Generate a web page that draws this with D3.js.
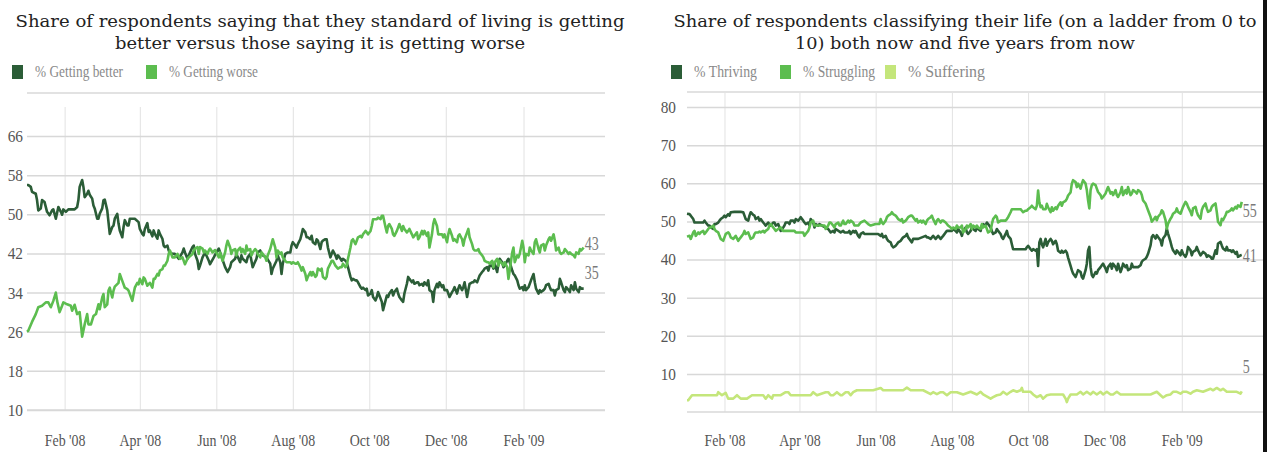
<!DOCTYPE html>
<html>
<head>
<meta charset="utf-8">
<script src="https://cdn.jsdelivr.net/npm/d3@7"></script>
<style>
  body { margin: 0; background: #fff; }
  svg { display: block; }
</style>
</head>
<body>
<svg id="chart" width="1267" height="452"></svg>
<script>
// ── Data: [days since 2 Jan 2008, percent] ─────────────
const better = [[0,56],[1,56],[3,55.6],[4,54.6],[7,54.2],[8,52.9],[9,50.8],[11,51.2],[12,52.9],[14,52.5],[16,50.5],[18,49.8],[20,50.8],[21,51],[23,49.1],[25,51.5],[27,50.5],[28,49.9],[29,51],[31,50.5],[33,51],[36,51],[38,51],[40,51.5],[41,52.9],[42,55.6],[44,57],[45,55.6],[46,53.5],[48,54.2],[49,54.8],[50,54],[52,53.2],[53,51.8],[54,51.2],[56,49.1],[57,49.1],[58,50.1],[60,51.2],[61,52.9],[62,53],[64,50.8],[65,48.4],[66,46],[68,47.4],[69,47.7],[70,49.1],[72,50.1],[73,48.1],[74,46.7],[76,45.3],[77,47.4],[78,48.8],[80,47.7],[81,47.7],[82,49.1],[86,49.1],[89,48.4],[90,47],[92,46],[93,45.7],[94,47],[96,48.2],[97,46.4],[98,46.7],[100,45.5],[101,46.7],[102,46],[104,45],[105,46.7],[106,46],[108,45],[109,43.6],[110,43.3],[112,43.6],[113,42.6],[114,42.2],[116,41.9],[118,41.9],[121,40.9],[124,42.2],[125,43],[126,42.2],[128,40.9],[130,42.2],[132,43.3],[133,43.6],[134,41.9],[136,40.5],[137,38.8],[138,39.5],[140,41.2],[142,42.2],[145,40.5],[146,39.8],[149,41.2],[151,42.2],[153,43],[154,42.2],
  [158,39.2],[160,38.2],[162,39.2],[163,40.2],[166,40.9],[167,41.9],[170,40.2],[171,41.6],[172,40.9],[175,40.2],[176,41.2],[178,41.9],[179,40.5],[180,39.2],[183,40.9],[184,42.2],[186,42.6],[188,41.6],[191,41.2],[194,39.9],[195,37.8],[196,38.9],[199,40.5],[200,41.6],[202,40.2],[203,37.8],[204,39.9],[206,41.9],[208,42.2],[210,42.2],[211,43.6],[212,44.3],[214,43.6],[215,43.2],[216,43.9],[218,44.9],[219,45.9],[220,47],[222,46.3],[223,45.3],[224,45.3],[226,44.9],[227,45.6],[228,44.3],[230,43.9],[231,44.9],[232,44.6],[234,42.9],[235,44.3],[236,44.6],[238,44.9],[239,44.9],[240,43.2],[242,41.2],[243,41.9],[244,42.6],[246,41.6],[247,40.9],[248,41.6],[250,40.9],[251,40.5],[252,40.9],[254,40.5],[255,40.2],[256,39.2],[258,37.2],[259,36.5],[260,36.8],[262,36.5],[263,36.5],[264,36.1],[266,35.1],[267,34.8],[268,35],[270,34.5],[271,34.8],[272,33.4],[274,33.8],[275,34.5],[276,33.1],[278,32.4],[279,33.1],[280,34.1],[282,32.8],[283,32.1],[284,30.4],[286,32.4],[287,33.4],[288,33.1],[289,33.8],[291,34.5],[292,33.4],[293,34.1],[295,34.8],[296,33.8],[297,33.1],[299,32.4],[300,32.1],[301,33.8],[303,35.8],[304,37.2],
  [305,36.8],[307,36.1],[308,36.5],[309,35.8],[311,36.1],[312,36.1],[313,35.5],[315,35.8],[316,35.4],[317,36.1],[319,35.5],[320,36.5],[321,34.5],[323,34.1],[324,32.1],[325,34.5],[327,35.8],[328,35.1],[329,36.1],[331,35.1],[332,35.5],[333,34.5],[335,34.5],[336,33.8],[337,33.1],[339,34.1],[340,34.5],[341,35.1],[343,33.8],[344,34.8],[345,35.5],[347,34.5],[348,35.1],[349,36.1],[351,33.1],[352,34.5],[353,35.8],[355,36.1],[356,36.1],[357,36.5],[359,36.1],[360,36.8],[361,37.5],[363,38.2],[364,38.5],[365,38.9],[367,39.2],[368,38.5],[369,39.5],[371,39.5],[372,38.9],[373,39.9],[375,38.2],[376,39.9],[377,40.9],[379,40.2],[380,39.2],[381,39.5],[383,40.5],[384,40.9],[385,40.2],[387,38.5],[388,37.8],[389,37.5],[391,36.5],[392,35.5],[393,34.8],[395,35.1],[396,34.5],[397,35.5],[398,34.5],[400,35.1],[401,35.8],[402,36.5],[404,37.8],[405,36.1],[406,34.8],[408,33.8],[409,34.5],[410,34.1],[412,34.5],[413,34.8],[414,35.5],[416,35.8],[417,35.1],[418,34.5],[420,34.5],[421,33.4],[422,34.5],[424,34.8],[425,36.8],[426,36.1],[428,34.5],[429,34.1],[430,35.1],[432,34.5],[433,34.1],[434,35.5],[436,34.5],[437,36.1],[438,34.8],[440,34.1],[441,35.1],[442,34.8],[444,34.8]];

const worse = [[0,26],[1,26.2],[4,28],[7,29.6],[9,31],[12,31.3],[15,32],[17,32],[19,31],[21,32.3],[23,34],[24,32.3],[26,30],[28,31.3],[29,32],[32,31.6],[35,31.3],[36,30.3],[38,31.5],[40,29.6],[42,30],[43,27.5],[44,25],[46,27.5],[48,29.6],[49,27.5],[51,27.5],[53,29.2],[55,29.6],[57,31.6],[58,30.6],[60,33],[61,33.7],[62,31],[64,31.6],[65,34.4],[66,35],[68,33],[69,34.4],[70,35.2],[73,36],[74,37.8],[76,36.4],[78,35],[80,34.7],[81,34.4],[82,33.7],[84,32.3],[85,33.7],[86,35],[88,36],[89,35.7],[90,36.8],[92,35.7],[93,37.1],[94,36.8],[96,35.4],[97,35.7],[98,36],[100,35],[101,36.8],[102,36.8],[104,37.8],[105,37.5],[106,38.5],[108,38.8],[109,39.5],[110,39.5],[112,40.5],[113,41.9],[114,42.6],[116,41.2],[118,41.2],[120,41.9],[122,40.9],[124,41.2],[126,39.8],[128,40.9],[129,41.2],[132,41.9],[133,42.6],[134,43],[136,43.3],[137,41.9],[138,43.3],[140,43],[141,42.2],[142,42.6],[144,41.9],[145,42.6],[146,43],[148,42.2],[150,42.7],[153,41.2],[154,42.2],
  [156,40.5],[158,42.2],[159,43.6],[160,44.6],[162,43.2],[163,41.9],[164,42.6],[166,42.9],[167,41.6],[168,42.6],[170,43.2],[171,42.2],[172,42.9],[174,41.9],[175,43.6],[176,42.6],[178,42.9],[179,41.6],[180,42.2],[182,42.9],[183,42.6],[184,41.9],[186,41.2],[187,42.2],[188,41.9],[190,41.2],[191,40.5],[192,41.6],[194,42.9],[195,43.9],[196,44.9],[198,43.2],[199,41.2],[200,42.6],[202,41.9],[203,42.2],[204,41.2],[206,40.5],[207,40.2],[210,40.2],[211,39.9],[212,40.2],[214,39.9],[215,39.9],[216,40.2],[218,39.2],[219,38.5],[220,39.2],[222,37.8],[223,36.5],[224,37.2],[226,38.2],[227,37.5],[228,38.2],[230,37.2],[231,37.5],[232,38.9],[234,38.5],[235,38.9],[236,37.2],[238,36.8],[239,37.2],[240,38.9],[242,39.9],[243,40.5],[244,40.5],[246,39.5],[247,39.2],[248,38.9],[250,39.2],[251,39.2],[252,39.9],[254,39.2],[255,39.5],[256,40.9],[258,43.2],[259,44.6],[260,44.9],[262,43.9],[263,44.6],[264,45.3],[266,45.6],[267,45.3],[268,45.9],[270,46.6],[271,46.3],[272,45.9],[274,46.6],[275,47.6],[276,49],[278,49],[279,49],[280,49.3],[282,49],[283,49.7],[284,49.7],[286,47.3],[287,46.3],[288,47.6],[289,48],[291,47],[292,45.9],[293,45.6],[295,46.6],[296,47.3],[297,48],[299,46.6],[300,47.6],[301,47],[303,46.3],[304,46.6],
  [305,47],[307,45.9],[308,45.3],[309,45.6],[311,46.3],[312,44.9],[313,45.3],[315,46.6],[316,45.9],[317,46.6],[319,45.6],[320,46.3],[321,43.2],[323,45.9],[324,48],[325,49],[327,47.6],[328,45.9],[329,45.9],[331,45.9],[332,45.3],[333,45.9],[335,44.3],[336,45.9],[337,47],[339,45.6],[340,44.6],[341,44.9],[343,44.3],[344,45.6],[345,45.9],[347,44.9],[348,43.6],[349,44.9],[351,46.3],[352,47],[353,45.3],[355,43.9],[356,42.9],[357,42.6],[359,42.6],[360,42.9],[361,42.2],[363,41.6],[364,41.2],[365,40.5],[367,40.2],[368,40.2],[369,39.9],[371,40.5],[372,39.2],[373,40.2],[375,40.9],[376,39.5],[377,40.5],[379,39.9],[380,39.5],[381,40.2],[383,39.2],[384,36.8],[385,38.5],[387,42.2],[388,43.2],[389,40.2],[391,41.6],[392,41.2],[393,41.9],[395,44.6],[396,43.2],[397,40.2],[398,41.9],[400,41.6],[401,43.2],[402,42.6],[404,41.9],[405,44.3],[406,44.9],[408,42.9],[409,42.2],[410,43.6],[412,43.9],[413,42.6],[414,43.6],[416,44.9],[417,45.3],[418,44.6],[420,45.9],[421,44.6],[422,42.6],[424,43.2],[425,42.2],[426,41.9],[428,42.2],[429,42.9],[430,42.6],[432,41.9],[433,42.2],[434,41.9],[436,41.6],[437,41.2],[438,42.2],[440,41.9],[441,42.9],[442,42.6],[444,43.2]];

const thriving = [[0,52],[2,51.9],[3,51.5],[5,50.6],[6,49.7],[9,49.7],[11,49.7],[13,49.7],[14,50.2],[15,49.7],[17,48.9],[18,48.9],[19,48.4],[21,48],[22,49.3],[23,49.3],[25,49.7],[26,50.2],[27,50.6],[29,51.1],[30,51.5],[31,51.1],[33,51.9],[34,51.5],[35,52.4],[38,52.5],[41,52.5],[43,52.5],[45,52.4],[46,51.5],[47,50.6],[49,50.2],[50,51.5],[51,52.4],[53,51.7],[54,51.5],[55,50.6],[57,51.1],[58,50.2],[59,50.6],[61,49.7],[62,49.3],[63,48.9],[65,49.7],[66,49.3],[67,48.9],[69,49.7],[70,49.7],[71,48.9],[73,49.3],[74,48.4],[75,47.5],[77,48.4],[78,48.9],[79,49.7],[81,49.7],[82,49.3],[83,50.2],[85,50.2],[86,49.7],[87,50.6],[89,50.2],[90,50.6],[91,51.1],[93,50.2],[94,49.7],[95,49.3],[97,49.7],[98,48.9],[99,50.6],[101,49.7],[102,48.4],[103,49.3],[105,48.9],[106,49.3],[113,48],[115,47.1],[117,47.5],[118,47.1],[119,48],[123,47.1],[125,47.5],[126,47.1],[129,47.1],[130,47.5],[131,46.7],[133,47.5],[134,47.1],[135,47.5],[137,46.2],[138,45.8],[139,46.7],[141,47.1],[142,46.7],[145,46.7],[147,46.7],[150,46.7],[153,46.7],
  [155,46.2],[156,46.7],[157,45.8],[159,46.2],[160,45.4],[161,44.9],[163,44.5],[164,43.6],[165,43.2],[167,43.6],[168,44],[169,44.5],[171,44.9],[172,45.4],[173,45.8],[175,46.2],[176,46.7],[177,45.8],[179,44.9],[180,44.5],[181,45.4],[183,45.4],[185,45.4],[188,45.8],[191,46.2],[192,45.8],[193,45.8],[195,45.4],[196,45.8],[197,46.2],[199,45.4],[200,45.8],[201,46.2],[203,45.4],[204,45.8],[205,46.2],[207,47.1],[208,47.5],[209,47.5],[212,47.5],[213,48],[215,47.5],[216,47.1],[217,48],[219,47.1],[220,46.2],[221,47.5],[223,48.4],[224,47.1],[225,46.7],[227,47.5],[228,48.4],[229,48],[231,47.5],[232,48.4],[233,48],[235,47.5],[236,48.9],[237,49.3],[239,48.9],[240,49.7],[241,49.3],[243,48.4],[244,47.5],[245,46.7],[247,47.1],[248,48],[249,47.5],[251,46.7],[252,45.8],[253,45.4],[255,46.7],[256,47.5],[257,46.2],[259,45.4],[260,44],[261,42.7],[263,42.7],[265,42.7],[268,42.7],[271,42.7],[272,43.2],[273,43.6],[275,42.7],[276,42.3],[277,42.7],[279,42.3],[280,42.7],[281,38.3],[282,44.5],[283,45.4],[284,44],[285,43.2],[287,45.4],[288,43.6],[289,44.5],[291,45.4],[292,44.9],[293,44],[295,44.9],[296,44],[297,42.3],[299,41.8],[300,42.3],[301,41.8],[303,42.3],[304,41.8],[305,40.5],[307,38.3],
  [308,37.2],[309,36.3],[311,35.4],[312,36.3],[313,37.2],[315,36.7],[316,35.4],[317,35],[319,37.2],[320,38.9],[321,42.4],[322,43.3],[323,38],[324,35.9],[325,35.4],[327,36.7],[328,36.3],[329,37.2],[331,38],[332,38.5],[333,38.9],[335,37.6],[336,36.7],[337,38],[339,38.9],[340,37.6],[341,38.9],[343,38],[344,37.2],[345,38.9],[347,36.7],[348,37.6],[349,38.9],[351,38],[352,38.5],[353,37.2],[355,37.6],[356,38.9],[357,38],[359,38],[360,38],[361,38],[363,38.5],[364,39.4],[365,39.8],[367,40.2],[368,40.7],[369,41.5],[371,43.7],[372,45.9],[373,46.4],[375,45.5],[376,46.4],[377,45.9],[379,45],[380,43.7],[381,45.5],[383,46.4],[384,48.1],[385,46.8],[387,44.6],[388,43.3],[389,42.4],[391,41.5],[392,42.4],[393,42],[395,41.1],[396,42.4],[397,41.5],[399,40.7],[400,41.5],[401,43.3],[403,42.4],[404,41.1],[405,42],[407,42.4],[408,43.3],[409,42.4],[411,41.1],[412,41.5],[413,42],[415,41.5],[416,40.7],[417,41.1],[419,40.7],[420,40.2],[421,40.2],[423,42.4],[424,41.5],[425,44.2],[427,44.6],[428,43.7],[429,42.9],[431,42.4],[432,43.3],[433,42.4],[435,42.4],[436,42],[437,42.4],[439,41.5],[440,42],[441,40.7],[443,41.1],[444,41.2]];

const struggling = [[0,46],[2,46.2],[3,45.4],[5,47.1],[6,47.5],[7,46.2],[9,47.1],[10,46.7],[11,47.1],[13,47.5],[14,46.7],[15,47.1],[17,48],[18,48.4],[19,48.4],[21,48.9],[22,48],[23,47.5],[25,47.1],[26,46.2],[27,45.4],[29,44.9],[30,45.8],[31,46.7],[33,47.1],[34,46.7],[35,45.8],[37,45.4],[38,45.8],[39,46.2],[41,44.9],[42,45.4],[43,45.8],[45,46.7],[46,47.5],[47,46.7],[49,47.1],[50,46.2],[51,45.4],[53,45.8],[54,46.7],[55,47.1],[57,47.1],[58,47.3],[59,47.1],[61,47.5],[62,47.1],[63,47.5],[65,48],[66,48.9],[67,49.3],[69,48.4],[70,48],[71,47.5],[73,48],[75,48.4],[77,47.5],[78,47.5],[81,47.5],[83,47.5],[86,47.5],[87,47.1],[89,47.1],[91,47.1],[93,47.1],[94,46.2],[95,46.7],[97,47.5],[98,48.4],[99,49.7],[101,50.2],[102,48.9],[103,48.9],[105,48.9],[107,48.9],[110,48.9],[111,48],[113,48.9],[114,49.7],[115,49.7],[117,48.9],[118,48.4],[119,49.3],[121,49.7],[122,48.9],[123,48.9],[125,50.2],[126,49.3],[127,49.3],[129,50.2],[130,49.7],[131,50.2],[133,49.7],[134,48.9],[137,48.9],[139,49.7],[142,50.2],[145,49.3],[147,48.9],[151,49.3],[154,49.3],
  [155,50.6],[156,49.7],[157,49.3],[159,50.2],[160,51.1],[161,51.5],[163,51.9],[164,52.4],[165,51.9],[167,51.5],[168,51.1],[169,50.6],[171,50.2],[172,50.6],[173,49.7],[175,50.2],[176,50.6],[177,51.1],[179,51.5],[180,51.5],[181,51.1],[183,50.2],[184,50.6],[185,49.7],[187,50.2],[188,49.7],[189,50.2],[191,49.3],[192,50.2],[193,50.6],[195,51.1],[196,51.5],[197,50.6],[199,49.3],[200,50.2],[201,50.6],[203,49.7],[204,50.2],[205,50.2],[207,49.7],[208,49.3],[209,48.9],[211,48.4],[212,48],[213,48.4],[215,48],[216,48.9],[217,48.4],[219,48.4],[220,48.9],[221,47.1],[223,48],[224,48.9],[225,48.4],[227,49.3],[228,48],[229,48.9],[231,48.4],[232,48.9],[233,48.4],[235,48],[236,49.3],[237,48.4],[239,48.9],[240,48],[241,47.1],[243,47.5],[244,49.3],[245,50.6],[247,51.5],[248,51.1],[249,49.7],[251,50.2],[252,50.2],[253,50.2],[255,50.2],[256,50.6],[257,51.1],[259,52.4],[260,53.2],[261,53.2],[263,53.2],[265,53.2],[267,53.2],[268,52.8],[269,52.4],[271,52.8],[272,52.8],[273,53.2],[275,53.7],[276,54.1],[277,53.7],[279,53.2],[280,54.1],[281,58.1],[282,55],[283,53.7],[284,54.1],[285,53.2],[287,53.2],[288,54.6],[289,53.7],[291,52.4],[292,53.7],[293,52.8],[295,53.7],[296,53.2],[297,54.1],[299,55],[300,54.1],[301,55],[303,55.4],[304,55.9],[305,56.8],[307,57.6],
  [308,59.9],[309,60.8],[311,60.3],[312,59],[313,59.9],[315,58.6],[316,59.9],[317,60.8],[319,59.9],[320,58.2],[321,55.5],[322,53.4],[323,58.2],[324,59.5],[325,59.9],[327,59.5],[328,58.6],[329,57.7],[331,56.9],[332,56],[333,56.4],[335,57.3],[336,58.2],[337,59],[339,57.3],[340,57.7],[341,56.9],[343,58.2],[344,56.9],[345,56.4],[347,57.7],[348,59],[349,56.9],[351,58.2],[352,57.3],[353,59],[355,56.9],[356,57.3],[357,58.2],[359,57.7],[360,57.3],[361,58.2],[363,57.7],[364,56.9],[365,55.5],[367,54.7],[368,53.8],[369,52.9],[371,51.2],[372,49.9],[373,50.3],[375,51.2],[376,50.3],[377,51.2],[379,52],[380,52.9],[381,52.5],[383,50.3],[384,48.1],[385,49.4],[387,50.7],[388,51.2],[389,52],[391,52.5],[392,53.4],[393,52.5],[395,52],[396,52.9],[397,53.8],[399,55.1],[400,54.7],[401,53.8],[403,52.5],[404,51.6],[405,53.4],[407,53.8],[408,52.5],[409,51.6],[411,50.7],[412,52.9],[413,53.8],[415,54.7],[416,53.4],[417,52.5],[419,52.9],[420,53.8],[421,54.2],[423,54.7],[424,52.5],[425,49.9],[427,49],[428,50.7],[429,50.3],[431,51.6],[432,52.5],[433,52.5],[435,52.9],[436,53.4],[437,52.9],[439,53.8],[440,53.4],[441,54.2],[443,53.8],[444,55.1]];

const suffering = [[0,3.1],[1,3.1],[4,4.4],[16,4.4],[24,4.4],[25,5.2],[28,4.4],[31,5],[33,3.5],[37,3.5],[40,4.4],[43,3.5],[48,3.5],[52,4.4],[59,4.4],[61,4.4],[63,3.5],[65,4.4],[68,3.5],[69,4.4],[75,4.4],[79,5.2],[81,5.2],[83,4.4],[91,4.4],[99,4.4],[101,5.2],[104,4.4],[111,5.2],[113,5.2],[115,4.4],[117,4.4],[120,5.2],[123,4.4],[124,4.4],[127,5.2],[129,5.2],[131,4.4],[133,5.2],[136,5.7],[149,5.7],[155,6.3],[157,5.7],[173,5.7],[176,6.4],[179,5.7],[189,5.7],[195,4.7],[197,5.2],[200,4.7],[203,5.2],[205,5.2],[208,4.4],[211,5.2],[216,5.2],
  [221,4.6],[227,5.3],[232,4.6],[235,5.3],[237,4.6],[243,3.5],[245,3.9],[248,4.4],[251,4.6],[253,5.3],[256,4.6],[259,5.3],[261,5.7],[264,5.3],[267,5.7],[268,6.3],[269,5.3],[275,5.3],[277,4.6],[280,3.9],[283,4.4],[285,3.5],[288,4.4],[291,4.6],[299,4.6],[301,4.6],[303,3.5],[304,2.6],[305,3.5],[307,4.6],[312,4.6],[315,5.3],[317,4.6],[320,5.3],[323,4.6],[325,5.3],[328,4.6],[331,5.3],[333,4.6],[336,5.3],[339,4.6],[341,4.6],[344,5.3],[347,4.6],[349,4.6],[360,4.6],[371,4.6],[376,5.3],[379,4.4],[381,3.8],[384,4.4],[387,4.6],[389,5.3],[392,5.3],[395,4.8],[397,5.3],[400,5.3],[403,4.8],[405,5.3],[408,5.7],[413,5.3],[416,5.7],[419,6.1],[421,5.7],[424,6.3],[427,5.7],[429,6.1],[432,5.3],[435,5.3],[437,5.3],[440,5.3],[443,4.8],[444,5.4]];

const leftTicks = [10, 18, 26, 34, 42, 50, 58, 66];
const rightTicks = [10, 20, 30, 40, 50, 60, 70, 80];
const monthTicks = ['2008-02-01', '2008-04-01', '2008-06-01', '2008-08-01', '2008-10-01', '2008-12-01', '2009-02-01'];

const leftTitle = ['Share of respondents saying that they standard of living is getting', 'better versus those saying it is getting worse'];
const rightTitle = ['Share of respondents classifying their life (on a ladder from 0 to', '10) both now and five years from now'];

const COLORS = { dark: '#2b5d37', mid: '#5cbd4f', light: '#c4e67b' };

// ═══════════════════════════════════════════════════════
const svg = d3.select('#chart');
const start = new Date(2008, 0, 2);
const end = new Date(2009, 3, 7);
const parseTick = d3.timeParse('%Y-%m-%d');
const fmtTick = d3.timeFormat("%b '%y");
const toDate = d => d3.timeDay.offset(start, d);

const panels = [
  {
    title: leftTitle, cx: 320, x0: 27, x1: 605, frameTop: 93, vTop: 107,
    yDomain: [10, 66], yRange: [410, 136], ticks: leftTicks, yPad: 4, xPad: 24,
    titleW: [609, 410],
    series: [
      { name: '% Getting better', data: better, color: COLORS.dark, lx: 12, lw: 88 },
      { name: '% Getting worse', data: worse, color: COLORS.mid, lx: 146, lw: 89 },
    ],
    labelDy: { '% Getting better': -15, '% Getting worse': -5 },
  },
  {
    title: rightTitle, cx: 965, x0: 687, x1: 1263, frameTop: 92, vTop: 92,
    yDomain: [0, 80], yRange: [412, 107], ticks: rightTicks, yPad: 11, xPad: 22,
    titleW: [583, 340],
    series: [
      { name: '% Thriving', data: thriving, color: COLORS.dark, lx: 671, lw: 63 },
      { name: '% Struggling', data: struggling, color: COLORS.mid, lx: 780, lw: 72 },
      { name: '% Suffering', data: suffering, color: COLORS.light, lx: 885, lw: 77 },
    ],
    labelDy: { '% Thriving': 0, '% Struggling': 8, '% Suffering': -26 },
  },
];

panels.forEach(p => {
  const x = d3.scaleTime().domain([start, end]).range([p.x0, p.x1]);
  const y = d3.scaleLinear().domain(p.yDomain).range(p.yRange);
  const bottom = y(p.yDomain[0]);
  const g = svg.append('g');

  // Title
  p.title.forEach((line, i) => {
    g.append('text')
      .attr('x', p.cx).attr('y', 27 + i * 22)
      .attr('text-anchor', 'middle')
      .attr('font-family', "'DejaVu Serif', serif")
      .attr('font-size', 17)
      .attr('fill', '#222')
      .attr('textLength', p.titleW[i])
      .attr('lengthAdjust', 'spacingAndGlyphs')
      .text(line);
  });

  // Legend
  p.series.forEach(s => {
    g.append('rect').attr('x', s.lx).attr('y', 65).attr('width', 11).attr('height', 14).attr('fill', s.color);
    g.append('text')
      .attr('x', s.lx + 23).attr('y', 77)
      .attr('font-family', "'Liberation Serif', serif")
      .attr('font-size', 17).attr('fill', '#8a8a8a')
      .attr('textLength', s.lw).attr('lengthAdjust', 'spacingAndGlyphs')
      .text(s.name);
  });

  // Frame top
  g.append('line')
    .attr('x1', p.x0).attr('x2', p.x1).attr('y1', p.frameTop).attr('y2', p.frameTop)
    .attr('stroke', '#d8d8d8').attr('stroke-width', 1.5);

  // Vertical grid + month labels
  const xAxis = g.append('g')
    .attr('transform', `translate(0,${bottom})`)
    .call(d3.axisBottom(x)
      .tickValues(monthTicks.map(parseTick))
      .tickFormat(fmtTick)
      .tickSize(-(bottom - p.vTop))
      .tickPadding(p.xPad));
  xAxis.select('.domain').remove();
  xAxis.selectAll('.tick line').attr('stroke', '#e2e2e2').attr('stroke-width', 1);
  xAxis.selectAll('.tick text')
    .attr('font-family', "'Liberation Serif', serif")
    .attr('font-size', 17).attr('fill', '#555')
    .each(function () {
      const w = this.getComputedTextLength();
      d3.select(this).attr('textLength', w * 0.82).attr('lengthAdjust', 'spacingAndGlyphs');
    });

  // Horizontal grid + value labels
  const yAxis = g.append('g')
    .attr('transform', `translate(${p.x0},0)`)
    .call(d3.axisLeft(y)
      .tickValues(p.ticks)
      .tickSize(-(p.x1 - p.x0))
      .tickPadding(p.yPad));
  yAxis.select('.domain').remove();
  yAxis.selectAll('.tick line').attr('stroke', '#d8d8d8').attr('stroke-width', 1.5);
  yAxis.selectAll('.tick text')
    .attr('font-family', "'Liberation Serif', serif")
    .attr('font-size', 17).attr('fill', '#555')
    .each(function () {
      const w = this.getComputedTextLength();
      d3.select(this).attr('textLength', w * 0.9).attr('lengthAdjust', 'spacingAndGlyphs');
    });

  // Base line
  g.append('line')
    .attr('x1', p.x0).attr('x2', p.x1).attr('y1', bottom).attr('y2', bottom)
    .attr('stroke', '#d8d8d8').attr('stroke-width', 1.5);

  // Lines
  const line = d3.line().x(d => x(toDate(d[0]))).y(d => y(d[1]));
  p.series.forEach(s => {
    g.append('path')
      .datum(s.data)
      .attr('fill', 'none')
      .attr('stroke', s.color)
      .attr('stroke-width', 2.6)
      .attr('stroke-linejoin', 'round')
      .attr('d', line);
  });

  // End labels
  p.series.forEach(s => {
    const last = s.data[s.data.length - 1];
    const v = Math.round(last[1]);
    g.append('text')
      .attr('x', x(toDate(last[0])) + 1)
      .attr('y', y(v) + p.labelDy[s.name])
      .attr('dy', '0.35em')
      .attr('font-family', "'Liberation Serif', serif")
      .attr('font-size', 18).attr('fill', '#7a7a7a')
      .attr('textLength', String(v).length * 7)
      .attr('lengthAdjust', 'spacingAndGlyphs')
      .text(v);
  });
});

// dark edge on the right of the original capture
svg.append('rect').attr('x', 1263).attr('y', 0).attr('width', 4).attr('height', 452).attr('fill', '#111');
</script>
</body>
</html>
